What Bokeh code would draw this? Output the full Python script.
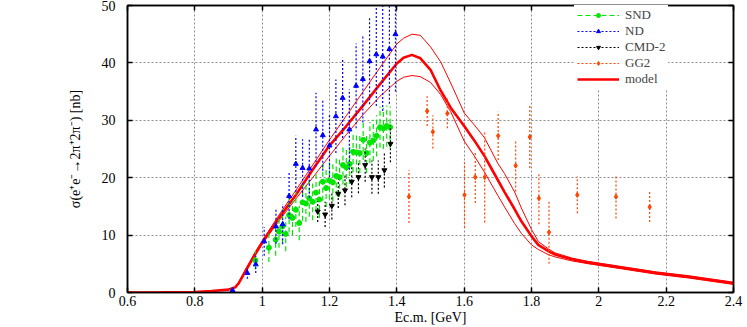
import numpy as np
from bokeh.plotting import figure
from bokeh.models import Range1d, LinearAxis, Legend, LegendItem, FixedTicker
from bokeh.embed import file_html
from bokeh.resources import INLINE

# ---------------- data ----------------
x_ticks = [0.6, 0.8, 1, 1.2, 1.4, 1.6, 1.8, 2, 2.2, 2.4]
x_tick_labels = ["0.6", "0.8", "1", "1.2", "1.4", "1.6", "1.8", "2", "2.2", "2.4"]
y_ticks = [0, 10, 20, 30, 40, 50]

snd_e = [0.980, 1.020, 1.040, 1.050, 1.060, 1.070, 1.080, 1.090, 1.100, 1.110,
         1.120, 1.130, 1.140, 1.150, 1.160, 1.170, 1.180, 1.190, 1.200, 1.210,
         1.220, 1.230, 1.240, 1.250, 1.260, 1.270, 1.280, 1.290, 1.300, 1.310,
         1.320, 1.330, 1.340, 1.350, 1.360, 1.370, 1.380]
snd_s = [5.6, 7.8, 9.2, 10.6, 11.5, 10.2, 13.5, 13.0, 14.4, 12.1,
         15.7, 15.5, 16.4, 15.8, 17.4, 16.2, 19.3, 18.2, 19.5, 19.2,
         20.3, 20.1, 22.2, 21.8, 22.4, 24.5, 24.4, 24.3, 26.6, 24.3,
         26.1, 26.5, 27.3, 28.8, 28.6, 29.0, 28.8]
snd_err = [1.6, 2.5, 2.8, 2.8, 3.0, 3.0, 3.0, 3.0, 3.0, 3.0,
           3.2, 3.2, 3.2, 3.2, 3.2, 3.2, 3.3, 3.3, 3.3, 3.3,
           3.4, 3.4, 3.4, 3.4, 3.5, 3.5, 3.5, 3.5, 3.5, 3.5,
           3.6, 3.6, 3.6, 3.6, 3.6, 3.6, 3.6]

nd_e = [0.912, 0.956, 0.981, 1.006, 1.041, 1.061, 1.080, 1.100, 1.120, 1.140,
        1.160, 1.180, 1.200, 1.219, 1.239, 1.259, 1.279, 1.299, 1.319, 1.339,
        1.358, 1.378, 1.396]
nd_s = [0.4, 3.4, 4.9, 8.9, 11.5, 11.9, 16.8, 22.4, 21.7, 21.6,
        28.4, 27.4, 25.6, 30.7, 33.9, 28.4, 36.0, 37.2, 40.3, 41.5,
        41.1, 42.4, 45.0]
nd_err = [0.4, 1.0, 1.5, 2.5, 3.0, 3.5, 4.0, 4.9, 5.0, 5.1,
          6.4, 6.2, 5.5, 6.4, 7.0, 7.0, 7.4, 7.6, 7.5, 9.0,
          9.5, 9.5, 10.0]

cmd_e = [1.165, 1.187, 1.207, 1.226, 1.246, 1.266, 1.286, 1.306, 1.326, 1.345,
         1.363, 1.381]
cmd_s = [14.1, 13.6, 15.1, 17.2, 17.8, 19.3, 20.1, 22.2, 20.1, 20.1, 21.3, 25.9]
cmd_err = [1.8, 2.2, 2.4, 2.5, 2.6, 2.7, 2.8, 2.9, 2.9, 2.9, 3.0, 3.2]

gg2_e = [1.436, 1.490, 1.507, 1.550, 1.601, 1.633, 1.661, 1.701, 1.753, 1.795,
         1.822, 1.852, 1.936, 2.051, 2.151]
gg2_s = [16.7, 31.6, 28.0, 31.2, 17.0, 20.1, 20.1, 27.3, 22.1, 27.1,
         16.4, 10.5, 17.0, 16.7, 14.9]
gg2_err = [4.6, 2.6, 2.9, 2.6, 5.7, 4.5, 7.9, 4.2, 4.5, 5.4,
           4.5, 5.5, 3.2, 3.8, 2.6]

model_e = [0.60, 0.70, 0.80, 0.85, 0.90, 0.92, 0.93, 0.95, 0.98, 1.00,
           1.05, 1.10, 1.15, 1.20, 1.25, 1.30, 1.35, 1.40, 1.42, 1.445,
           1.47, 1.50, 1.53, 1.56, 1.60, 1.63, 1.66, 1.70, 1.72, 1.75,
           1.77, 1.80, 1.82, 1.85, 1.87, 1.92, 1.97, 2.07, 2.17, 2.27, 2.40]
model_c = [0.0, 0.02, 0.1, 0.25, 0.5, 0.9, 1.6, 3.7, 6.8, 8.7,
           13.0, 17.0, 21.4, 25.6, 29.0, 32.6, 36.3, 39.9, 40.9, 41.4,
           40.8, 38.8, 35.2, 32.2, 29.0, 26.5, 23.8, 19.6, 17.5, 14.5,
           12.4, 9.8, 8.3, 7.2, 6.6, 5.8, 5.2, 4.3, 3.4, 2.7, 1.6]
model_u = [0.0, 0.02, 0.1, 0.25, 0.5, 0.9, 1.7, 3.9, 7.1, 9.0,
           13.5, 17.8, 22.2, 26.6, 30.8, 35.0, 39.2, 43.3, 44.3, 45.0,
           44.8, 42.8, 40.2, 36.5, 31.3, 29.2, 27.0, 22.5, 20.7, 17.5,
           14.7, 11.0, 8.9, 7.6, 6.9, 6.0, 5.4, 4.5, 3.6, 2.9, 1.8]
model_l = [0.0, 0.02, 0.1, 0.25, 0.5, 0.9, 1.5, 3.5, 6.5, 8.4,
           12.5, 16.3, 20.0, 23.8, 27.5, 31.0, 34.2, 36.8, 37.5, 37.8,
           37.6, 36.6, 34.5, 31.5, 26.4, 23.8, 21.0, 16.9, 14.9, 12.0,
           10.3, 8.3, 7.5, 6.6, 6.2, 5.5, 5.0, 4.1, 3.2, 2.5, 1.4]

# ---------------- figure ----------------
SERIF = "Liberation Serif"
p = figure(width=747, height=327, output_backend="svg", toolbar_location=None,
           x_range=Range1d(0.6, 2.4), y_range=Range1d(0, 50),
           min_border_left=127, min_border_right=14, min_border_top=5,
           min_border_bottom=32)
p.background_fill_color = "white"
p.outline_line_color = "black"
p.outline_line_width = 1.5

xt = FixedTicker(ticks=x_ticks)
yt = FixedTicker(ticks=y_ticks)

for ax in (p.xaxis[0], p.yaxis[0]):
    ax.major_tick_in = 5
    ax.major_tick_out = 0
    ax.minor_tick_in = 0
    ax.minor_tick_out = 0
    ax.axis_line_color = "black"
    ax.axis_line_width = 1.5
    ax.major_tick_line_width = 1.5
    ax.major_label_text_font = SERIF
    ax.major_label_text_font_size = "14px"
    ax.major_label_text_color = "black"
    ax.axis_label_text_font = SERIF
    ax.axis_label_text_font_size = "14px"
    ax.axis_label_text_font_style = "normal"
    ax.axis_label_text_color = "black"
p.xaxis[0].ticker = xt
p.yaxis[0].ticker = yt
p.xaxis[0].major_label_overrides = {v: s for v, s in zip(x_ticks, x_tick_labels)}
p.xaxis[0].major_label_standoff = 3
p.yaxis[0].major_label_standoff = 12
p.xaxis[0].axis_label = "Ec.m. [GeV]"
p.xaxis[0].axis_label_standoff = 1
p.yaxis[0].axis_label = "σ(e⁺e⁻→2π⁺2π⁻) [nb]"
p.yaxis[0].axis_label_standoff = 16

top = LinearAxis(ticker=xt, major_tick_in=5, major_tick_out=0, minor_tick_in=0,
                 minor_tick_out=0, axis_line_width=1.5, major_tick_line_width=1.5,
                 major_label_standoff=0,
                 major_label_overrides={v: "" for v in x_ticks})
right = LinearAxis(ticker=yt, major_tick_in=5, major_tick_out=0, minor_tick_in=0,
                   minor_tick_out=0, axis_line_width=1.5, major_tick_line_width=1.5,
                   major_label_standoff=0,
                   major_label_overrides={v: "" for v in y_ticks})
p.add_layout(top, "above")
p.add_layout(right, "right")

p.xgrid.ticker = xt
p.ygrid.ticker = yt
for g in (p.xgrid[0], p.ygrid[0]):
    g.grid_line_color = "#8c8c8c"
    g.grid_line_dash = "2 2"
    g.grid_line_width = 1

# ---------------- model ----------------
RED = "#ff0000"
p.line(model_e, model_u, line_color=RED, line_width=1)
p.line(model_e, model_l, line_color=RED, line_width=1)
model_r = p.line(model_e, model_c, line_color=RED, line_width=2.6)

# ---------------- data sets ----------------
def series(e, s, err, color, dash, marker, size):
    e = np.array(e); s = np.array(s); err = np.array(err)
    seg = p.segment(x0=e, y0=s - err, x1=e, y1=s + err, line_color=color,
                    line_width=1.2, line_dash=dash)
    pts = p.scatter(e, s, marker=marker, size=size, fill_color=color,
                    line_color=color)
    return seg, pts

GREEN = "#00e600"
BLUE = "#0000ff"
BLACK = "#000000"
ORANGE = "#ff4500"
snd_seg, snd_pts = series(snd_e, snd_s, snd_err, GREEN, "5 3", "circle", 5)
nd_seg, nd_pts = series(nd_e, nd_s, nd_err, BLUE, "2 2", "triangle", 5)
cmd_seg, cmd_pts = series(cmd_e, cmd_s, cmd_err, BLACK, "2 2", "inverted_triangle", 5)
gg2_seg, gg2_pts = series(gg2_e, gg2_s, gg2_err, ORANGE, "2 2", "diamond", 5)

legend = Legend(items=[
    LegendItem(label="SND", renderers=[snd_seg, snd_pts]),
    LegendItem(label="ND", renderers=[nd_seg, nd_pts]),
    LegendItem(label="CMD-2", renderers=[cmd_seg, cmd_pts]),
    LegendItem(label="GG2", renderers=[gg2_seg, gg2_pts]),
    LegendItem(label="model", renderers=[model_r]),
], location=(447, 202))
legend.background_fill_color = "white"
legend.background_fill_alpha = 1.0
legend.border_line_alpha = 0
legend.label_text_font = SERIF
legend.label_text_font_size = "13px"
legend.glyph_width = 42
legend.glyph_height = 10
legend.label_height = 10
legend.spacing = 0
legend.padding = 3
legend.margin = 0
legend.label_standoff = 6
p.add_layout(legend)

open("out.html", "w").write(file_html(p, INLINE))
